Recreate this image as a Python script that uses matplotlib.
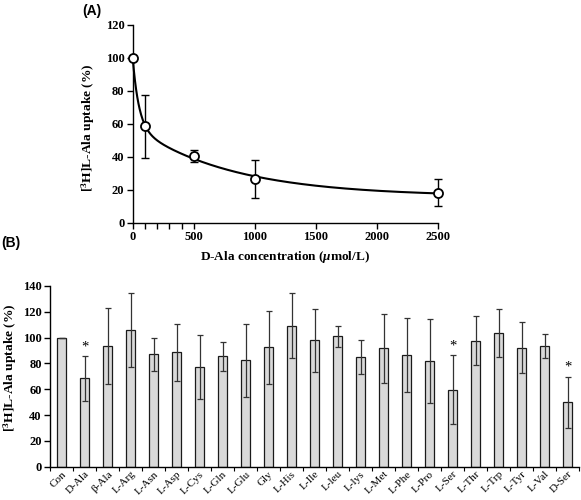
import numpy as np
import matplotlib
matplotlib.use("Agg")
import matplotlib.pyplot as plt

# ---- Panel A data ----
conc = [0, 100, 500, 1000, 2500]
uptake_a = [100, 58.5, 40.5, 26.5, 18.2]
err_a = [0, 19.0, 3.8, 11.6, 8.0]

# ---- Panel B data ----
aa = ["Con", "D-Ala", "β-Ala", "L-Arg", "L-Asn", "L-Asp", "L-Cys", "L-Gln", "L-Glu",
      "Gly", "L-His", "L-Ile", "L-leu", "L-lys", "L-Met", "L-Phe", "L-Pro", "L-Ser",
      "L-Thr", "L-Trp", "L-Tyr", "L-Val", "D-Ser"]
uptake_b = [100, 68.5, 93.7, 106, 87.2, 88.5, 77.5, 85.5, 82.3, 92.5, 109.2, 97.8,
            101, 85, 91.6, 86.3, 82, 59.6, 97.6, 103.5, 92.3, 93.4, 49.8]
err_b = [0, 17.3, 29.6, 28.5, 12.8, 21.8, 24.8, 11.3, 28, 28.5, 25.2, 24.7, 8.2,
         13.4, 27, 28.7, 32.8, 26.7, 18.8, 18.7, 19.6, 9.4, 20]
signif = ["D-Ala", "L-Ser", "D-Ser"]

serif = ["Liberation Serif", "DejaVu Serif"]
plt.rcParams["font.family"] = serif
plt.rcParams["mathtext.fontset"] = "custom"
plt.rcParams["mathtext.rm"] = "Liberation Serif"
plt.rcParams["mathtext.it"] = "Liberation Serif:italic:bold"
plt.rcParams["mathtext.bf"] = "Liberation Serif:bold"

fig = plt.figure(figsize=(5.81, 5.0), dpi=100)

# ---------------- Panel A ----------------
axA = fig.add_axes([0.2284, 0.5546, 0.5250, 0.3960])

# two-phase exponential decay fitted to the data (grid over rates, linear LSQ for amplitudes)
xa = np.asarray(conc, float); ya = np.asarray(uptake_a, float)
best = None
for k1 in np.logspace(-2.3, np.log10(0.02), 60):
    for k2 in np.logspace(-4, -2.5, 120):
        M = np.column_stack([np.ones_like(xa), np.exp(-k1 * xa), np.exp(-k2 * xa)])
        coef, *_ = np.linalg.lstsq(M, ya, rcond=None)
        if np.any(coef < 0):
            continue
        r = np.sum((M @ coef - ya) ** 2)
        if best is None or r < best[0]:
            best = (r, k1, k2, coef)
_, k1, k2, coef = best
xs = np.linspace(conc[0], conc[-1], 800)
ys = coef[0] + coef[1] * np.exp(-k1 * xs) + coef[2] * np.exp(-k2 * xs)

axA.plot(xs, ys, color="black", lw=1.5, clip_on=False, zorder=2)
axA.errorbar(conc, uptake_a, yerr=err_a, fmt="none", ecolor="black", elinewidth=1.0,
             capsize=3, capthick=1.0, clip_on=False, zorder=3)
axA.plot(conc, uptake_a, "o", ms=6.5, mfc="white", mec="black", mew=1.3,
         clip_on=False, zorder=4)
axA.set_xlim(0, 2500)
axA.set_ylim(0, 120)
axA.set_xticks([0, 500, 1000, 1500, 2000, 2500])
axA.set_xticks([100, 200, 300, 400], minor=True)
axA.set_yticks(np.arange(0, 121, 20))
for s in ["top", "right"]:
    axA.spines[s].set_visible(False)
for s in ["left", "bottom"]:
    axA.spines[s].set_linewidth(1.0)
axA.tick_params(which="both", direction="out", length=4, width=1.0, labelsize=9, pad=2)
for lab in axA.get_xticklabels() + axA.get_yticklabels():
    lab.set_fontweight("bold")
axA.set_xlabel("D-Ala concentration ($\\mathit{\\mu}$mol/L)", fontsize=9.5,
               fontweight="bold", labelpad=4)
axA.set_ylabel("[$^{\\mathbf{3}}$H]L-Ala uptake (%)", fontsize=9.7, fontweight="bold")
axA.yaxis.set_label_coords(-0.118, 0.48)
fig.text(0.141, 0.978, "(A)", fontsize=10, fontweight="bold",
         family=["Liberation Sans", "DejaVu Sans"], ha="left", va="center")

# ---------------- Panel B ----------------
axB = fig.add_axes([0.0861, 0.0666, 0.9105, 0.3614])
pos = np.arange(len(aa))
axB.bar(pos, uptake_b, width=0.43, color="#d9d9d9", edgecolor="#1a1a1a", lw=0.9, zorder=2)
axB.errorbar(pos, uptake_b, yerr=err_b, fmt="none", ecolor="#333333", elinewidth=0.9,
             capsize=2.5, capthick=0.9, zorder=3)
for i, name in enumerate(aa):
    if name in signif:
        axB.text(pos[i], uptake_b[i] + err_b[i] + 2.0, "*", ha="center", va="bottom",
                 fontsize=10.5)
axB.set_xlim(-0.5, len(aa) - 0.5)
axB.set_ylim(0, 140)
axB.set_yticks(np.arange(0, 141, 20))
axB.set_xticks(np.arange(len(aa) + 1) - 0.5)
axB.set_xticklabels([])
axB.set_xticks(pos, minor=True)
axB.set_xticklabels(aa, minor=True, rotation=45, ha="right", va="top",
                    rotation_mode="anchor", fontsize=8)
axB.tick_params(axis="x", which="minor", length=0, pad=2)
axB.tick_params(axis="x", which="major", length=3, width=0.8, direction="out")
axB.tick_params(axis="y", length=4, width=1.0, direction="out", labelsize=9, pad=2)
for lab in axB.get_yticklabels():
    lab.set_fontweight("bold")
for s in ["top", "right"]:
    axB.spines[s].set_visible(False)
for s in ["left", "bottom"]:
    axB.spines[s].set_linewidth(1.0)
axB.set_ylabel("[$^{\\mathbf{3}}$H]L-Ala uptake (%)", fontsize=9.7, fontweight="bold")
axB.yaxis.set_label_coords(-0.058, 0.55)
fig.text(0.002, 0.514, "(B)", fontsize=10, fontweight="bold",
         family=["Liberation Sans", "DejaVu Sans"], ha="left", va="center")

fig.savefig("out.png", dpi=100)
